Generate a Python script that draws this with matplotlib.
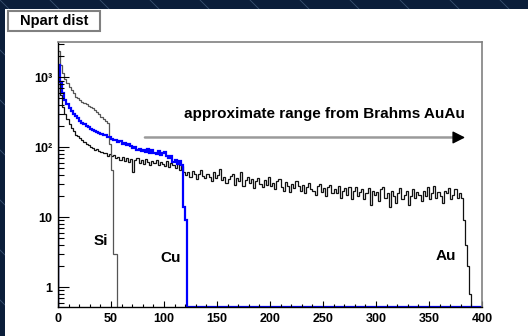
import numpy as np
import matplotlib
matplotlib.use("Agg")
import matplotlib.pyplot as plt
from matplotlib.patches import Rectangle
from matplotlib.lines import Line2D
from matplotlib.ticker import FixedLocator, LogLocator, MultipleLocator, NullFormatter

plt.rcParams['font.family'] = ['Liberation Sans', 'DejaVu Sans']
plt.rcParams['font.weight'] = 'bold'

# Npart histograms, 2-unit bins starting at 0
si_counts = [2400, 1500, 1150, 950, 820, 720, 650, 590, 530, 500,
             470, 450, 430, 410, 390, 375, 360, 340, 320, 295,
             270, 255, 240, 225, 110, 48, 3, 3]

cu_counts = [1500, 850, 600, 480, 420, 370, 330, 300, 280, 260,
             240, 225, 215, 200, 195, 185, 175, 170, 168, 160,
             155, 150, 148, 140, 138, 132, 128, 125, 120, 122,
             112, 115, 108, 110, 104, 98, 102, 92, 96, 88,
             92, 85, 95, 82, 90, 84, 80, 88, 78, 82,
             86, 74, 70, 76, 62, 66, 58, 64, 55, 14,
             9]

au_counts = [900, 560, 380, 300, 250, 215, 190, 170, 150, 145,
             135, 125, 118, 112, 108, 100, 98, 92, 95, 88,
             86, 82, 84, 76, 80, 74, 78, 70, 73, 66,
             72, 64, 70, 62, 68, 45, 66, 70, 60, 65,
             58, 68, 62, 56, 64, 60, 66, 55, 62, 58,
             54, 63, 52, 60, 56, 50, 58, 48, 54, 44,
             40, 44, 37, 46, 42, 35, 41, 47, 39, 36,
             42, 38, 33, 44, 36, 40, 49, 34, 37, 31,
             35, 39, 41, 29, 36, 33, 44, 28, 34, 38,
             31, 35, 26, 33, 36, 30, 27, 34, 29, 37,
             28, 31, 25, 33, 35, 27, 24, 32, 28, 23,
             30, 26, 33, 28, 24, 29, 22, 27, 31, 25,
             24, 21, 28, 30, 23, 26, 20, 27, 29, 22,
             25, 22, 28, 19, 24, 26, 21, 27, 18, 24,
             27, 20, 23, 25, 18, 22, 26, 15, 24, 21,
             23, 17, 25, 27, 19, 22, 14, 24, 20, 16,
             22, 26, 18, 21, 24, 15, 20, 25, 19, 23,
             21, 17, 24, 20, 27, 18, 22, 28, 19, 23,
             20, 16, 24, 22, 26, 18, 21, 25, 19, 22,
             19, 9, 4, 2, 0.8]

bin_w = 2
x_max = 400
y_lo, y_hi = 0.52, 3200

fig = plt.figure(figsize=(5.28, 3.36), dpi=100, facecolor='#0b1e3a')

# faint diagonal lines of the slide background
W, H = 528.0, 336.0
for x0 in np.arange(-400, 560, 50):
    fig.add_artist(Line2D([x0 / W, (x0 + 400) / W], [1, 1 - 400 / H],
                          transform=fig.transFigure, color='#3b5272', lw=0.6, zorder=0))
fig.add_artist(Rectangle((5 / W, 0), 1, 1 - 9 / H, transform=fig.transFigure,
                         facecolor='white', edgecolor='none', zorder=1))

ax = fig.add_axes([58 / W, 29 / H, 424 / W, 265 / H])
ax.set_zorder(2)
ax.set_facecolor('white')

cu_full = np.concatenate([cu_counts, np.zeros(x_max // bin_w - len(cu_counts))])
cu_full = np.clip(cu_full, y_lo, None)

ax.stairs(au_counts, np.arange(len(au_counts) + 1) * bin_w, baseline=0.1,
          color='#111111', lw=0.9)
ax.stairs(si_counts, np.arange(len(si_counts) + 1) * bin_w, baseline=0.1,
          color='#555555', lw=0.9)
ax.stairs(cu_full, np.arange(len(cu_full) + 1) * bin_w, baseline=0.1,
          color='#0000ff', lw=1.6)

ax.set_yscale('log')
ax.set_xlim(0, x_max)
ax.set_ylim(y_lo, y_hi)

ax.xaxis.set_major_locator(MultipleLocator(50))
ax.xaxis.set_minor_locator(MultipleLocator(10))
ax.yaxis.set_major_locator(FixedLocator([1, 10, 100, 1000]))
ax.yaxis.set_minor_locator(LogLocator(base=10, subs=np.arange(2, 10)))
ax.yaxis.set_minor_formatter(NullFormatter())
ax.set_yticklabels(['1', '10', '10²', '10³'])
ax.tick_params(axis='both', which='both', direction='in', labelsize=9, color='black')
ax.tick_params(axis='x', which='major', length=4, width=0.8, pad=4)
ax.tick_params(axis='x', which='minor', length=2, width=0.8)
ax.tick_params(axis='y', which='major', length=8, width=0.8, pad=4)
ax.tick_params(axis='y', which='minor', length=4.5, width=0.8)
for lab in ax.get_xticklabels() + ax.get_yticklabels():
    lab.set_fontweight('bold')

for side in ['top', 'right']:
    ax.spines[side].set_color('#808080')
    ax.spines[side].set_linewidth(1.2)
for side in ['left', 'bottom']:
    ax.spines[side].set_color('black')
    ax.spines[side].set_linewidth(1.0)

# arrow: grey shaft, black head
ax.annotate('', xy=(377, 138), xytext=(82, 138),
            arrowprops=dict(arrowstyle='-', color='#9a9a9a', lw=1.8,
                            shrinkA=0, shrinkB=0))
ax.annotate('', xy=(384, 138), xytext=(374, 138),
            arrowprops=dict(arrowstyle='-|>,head_length=0.75,head_width=0.38',
                            fc='black', ec='black', lw=1.0, shrinkA=0, shrinkB=0))
ax.text(251, 300, 'approximate range from Brahms AuAu', ha='center', va='center',
        fontsize=11, fontweight='bold')
ax.text(40, 4.5, 'Si', ha='center', va='center', fontsize=11, fontweight='bold')
ax.text(106, 2.6, 'Cu', ha='center', va='center', fontsize=11, fontweight='bold')
ax.text(366, 2.8, 'Au', ha='center', va='center', fontsize=11, fontweight='bold')

# title box
fig.add_artist(Rectangle((8 / W, 1 - 31 / H), 92 / W, 20 / H, transform=fig.transFigure,
                         facecolor='white', edgecolor='#808080', lw=1.5, zorder=3))
fig.text(54 / W, 1 - 21 / H, 'Npart dist', ha='center', va='center',
         fontsize=10.5, fontweight='bold', zorder=4)

fig.savefig('out.png', dpi=100, facecolor=fig.get_facecolor())
